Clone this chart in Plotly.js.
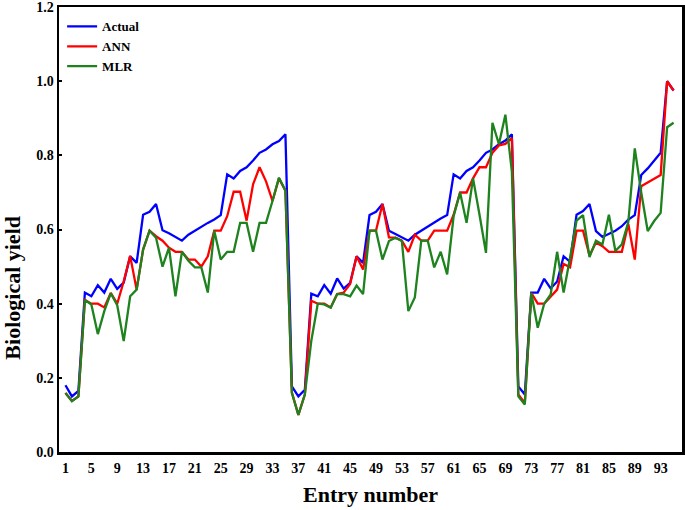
<!DOCTYPE html>
<html>
<head>
<meta charset="utf-8">
<script src="https://cdn.plot.ly/plotly-3.0.1.min.js"></script>
<style>html,body{margin:0;padding:0;background:#fff;}#chart{width:685px;height:510px;}</style>
</head>
<body>
<div id="chart"></div>
<script>
const actual = [
  0.18, 0.15, 0.165, 0.43, 0.42, 0.45, 0.43, 0.467, 0.44, 0.457,
  0.528, 0.51, 0.64, 0.648, 0.669, 0.598, 0.59, 0.58, 0.57, 0.586,
  0.597, 0.609, 0.618, 0.627, 0.639, 0.749, 0.738, 0.758, 0.768, 0.786,
  0.807, 0.816, 0.83, 0.839, 0.857,
  0.177, 0.15, 0.168, 0.427, 0.42, 0.45, 0.427, 0.468, 0.441, 0.456,
  0.528, 0.51, 0.639, 0.648, 0.669, 0.597, 0.588, 0.579, 0.57, 0.586,
  0.597, 0.609, 0.621, 0.63, 0.639, 0.749, 0.738, 0.758, 0.768, 0.786,
  0.807, 0.816, 0.83, 0.84, 0.857,
  0.177, 0.155, 0.43, 0.43, 0.467, 0.441, 0.46, 0.528, 0.513, 0.64,
  0.65, 0.669, 0.596, 0.58, 0.588, 0.597, 0.609, 0.627, 0.639, 0.747,
  0.765, 0.785, 0.807, 1.0, 0.975
];
const ann = [
  0.159, 0.138, 0.15, 0.41, 0.40, 0.40, 0.39, 0.429, 0.40, 0.46,
  0.529, 0.438, 0.546, 0.597, 0.582, 0.57, 0.551, 0.54, 0.54, 0.519,
  0.519, 0.50, 0.528, 0.597, 0.597, 0.636, 0.702, 0.702, 0.624, 0.722,
  0.768, 0.73, 0.677, 0.738, 0.705,
  0.16, 0.10, 0.155, 0.408, 0.40, 0.40, 0.39, 0.426, 0.43, 0.453,
  0.528, 0.492, 0.597, 0.597, 0.669, 0.579, 0.578, 0.57, 0.54, 0.586,
  0.57, 0.57, 0.597, 0.597, 0.597, 0.64, 0.70, 0.70, 0.738, 0.768,
  0.768, 0.807, 0.827, 0.831, 0.847,
  0.155, 0.132, 0.429, 0.40, 0.40, 0.42, 0.438, 0.507, 0.498, 0.597,
  0.597, 0.53, 0.565, 0.555, 0.54, 0.54, 0.54, 0.615, 0.519, 0.717,
  0.728, 0.737, 0.747, 1.0, 0.975
];
const mlr = [
  0.159, 0.137, 0.15, 0.41, 0.398, 0.318, 0.38, 0.428, 0.396, 0.299,
  0.42, 0.438, 0.546, 0.597, 0.578, 0.50, 0.551, 0.42, 0.54, 0.516,
  0.498, 0.498, 0.43, 0.597, 0.519, 0.54, 0.54, 0.618, 0.618, 0.54,
  0.618, 0.618, 0.677, 0.74, 0.705,
  0.159, 0.10, 0.155, 0.30, 0.40, 0.398, 0.389, 0.426, 0.426, 0.42,
  0.449, 0.426, 0.597, 0.597, 0.519, 0.569, 0.578, 0.569, 0.38, 0.417,
  0.57, 0.57, 0.498, 0.54, 0.479, 0.636, 0.70, 0.618, 0.738, 0.64,
  0.537, 0.888, 0.83, 0.91, 0.757,
  0.15, 0.128, 0.429, 0.335, 0.40, 0.425, 0.54, 0.43, 0.524, 0.624,
  0.639, 0.526, 0.57, 0.56, 0.64, 0.542, 0.56, 0.62, 0.819, 0.70,
  0.596, 0.623, 0.645, 0.876, 0.888
];
const entries = actual.map((_, i) => i + 1);
const xTickVals = [1,5,9,13,17,21,25,29,33,37,41,45,49,53,57,61,65,69,73,77,81,85,89,93];
const yTickVals = [0.0, 0.2, 0.4, 0.6, 0.8, 1.0, 1.2];

const fontFam = '"Liberation Serif", "Times New Roman", serif';
const mk = (y, name, color) => ({
  x: entries, y: y, name: name, type: 'scatter', mode: 'lines',
  line: {color: color, width: 2.3}
});
const data = [
  mk(actual, 'Actual', '#0000ff'),
  mk(ann, 'ANN', '#ff0000'),
  mk(mlr, 'MLR', '#1e821e')
];
const axisCommon = {
  showline: true, linecolor: '#000', linewidth: 2.5, mirror: true,
  showgrid: false, zeroline: false,
  tickfont: {family: fontFam, size: 14, color: '#000', weight: 'bold'}
};
const layout = {
  width: 685, height: 510,
  margin: {l: 59, r: 3, t: 7, b: 58},
  paper_bgcolor: '#fff', plot_bgcolor: '#fff',
  showlegend: true,
  legend: {x: 0.005, y: 0.99, xanchor: 'left', yanchor: 'top',
    font: {family: fontFam, size: 13, color: '#000', weight: 'bold'},
    bgcolor: 'rgba(0,0,0,0)', tracegroupgap: 0, itemwidth: 30},
  xaxis: Object.assign({}, axisCommon, {
    range: [0, 96.3], tickmode: 'array', tickvals: xTickVals,
    ticks: '', ticklabelstandoff: 2,
    title: {text: 'Entry number', standoff: 12,
      font: {family: fontFam, size: 22, color: '#000', weight: 'bold'}}
  }),
  yaxis: Object.assign({}, axisCommon, {
    range: [0, 1.2003], tickmode: 'array', tickvals: yTickVals, tickformat: '.1f',
    ticks: 'inside', ticklen: 3, tickwidth: 2, tickcolor: '#000'
  }),
  annotations: [{
    text: 'Biological yield', xref: 'paper', yref: 'paper',
    x: -0.075, y: 0.37, xanchor: 'center', yanchor: 'middle', textangle: -90,
    showarrow: false,
    font: {family: fontFam, size: 22, color: '#000', weight: 'bold'}
  }]
};
Plotly.newPlot('chart', data, layout, {displayModeBar: false, staticPlot: true});
</script>
</body>
</html>
